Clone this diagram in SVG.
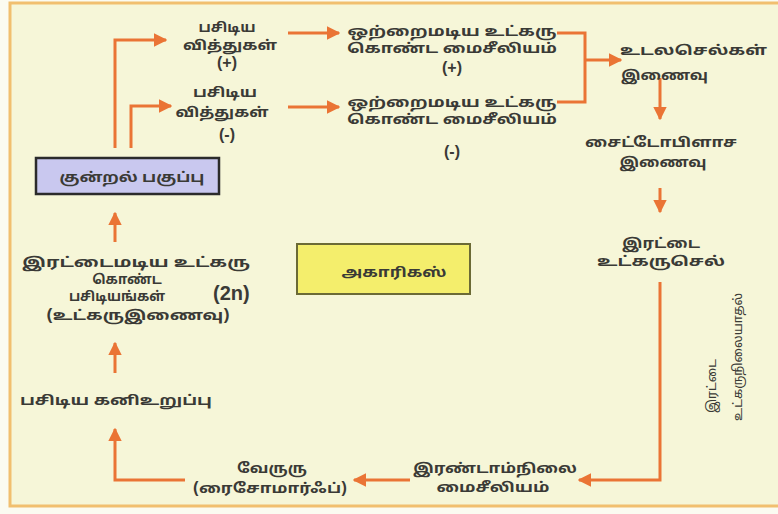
<svg xmlns="http://www.w3.org/2000/svg" width="778" height="514" viewBox="0 0 778 514">
<defs>
<style>
.t{font-family:"Noto Sans Tamil","Lohit Tamil","Noto Sans","DejaVu Sans",sans-serif;font-size:13.5px;fill:#3a3a36;text-anchor:middle;font-weight:bold}
.l{text-anchor:start}
.v{font-size:12.5px;font-weight:normal}
.c{fill:none;stroke:#ea7435;stroke-width:3}
.lat{font-family:"Liberation Sans",Arial,sans-serif;font-size:20px;fill:#3a3a36;font-weight:bold}
.pm{font-family:"Liberation Sans",Arial,sans-serif;font-size:16px;fill:#3a3a36;font-weight:bold;text-anchor:middle}
</style>
<marker id="ah" viewBox="0 0 10 10" refX="9" refY="5" markerWidth="4.5" markerHeight="4.5" orient="auto" markerUnits="strokeWidth">
<path d="M0,0 L10,5 L0,10 z" fill="#ea7435"/>
</marker>
</defs>
<rect x="0" y="0" width="778" height="514" fill="#fbfbf1"/>
<rect x="10" y="3" width="775" height="503" fill="#f6f6d8" stroke="#f1bf6f" stroke-width="3"/>

<g id="connectors">
<path class="c" d="M115,148 V40 H166" marker-end="url(#ah)"/>
<path class="c" d="M131,148 V106 H171" marker-end="url(#ah)"/>
<path class="c" d="M288,33 H339" marker-end="url(#ah)"/>
<path class="c" d="M288,107 H339" marker-end="url(#ah)"/>
<path class="c" d="M557,33 H585 V102 H557"/>
<path class="c" d="M585,60 H621" marker-end="url(#ah)"/>
<path class="c" d="M660,78 V119" marker-end="url(#ah)"/>
<path class="c" d="M660,188 V212" marker-end="url(#ah)"/>
<path class="c" d="M660,282 V480 H579" marker-end="url(#ah)"/>
<path class="c" d="M410,480 H354" marker-end="url(#ah)"/>
<path class="c" d="M185,480 H115 V429" marker-end="url(#ah)"/>
<path class="c" d="M115,373 V343" marker-end="url(#ah)"/>
<path class="c" d="M115,242 V213" marker-end="url(#ah)"/>
</g>

<g id="basidiospore-plus">
<text class="t" x="227" y="32" textLength="57" lengthAdjust="spacingAndGlyphs">பசிடிய</text>
<text class="t" x="230" y="50" textLength="94" lengthAdjust="spacingAndGlyphs">வித்துகள்</text>
<text class="pm" x="227" y="68">(+)</text>
</g>
<g id="basidiospore-minus">
<text class="t" x="225" y="97" textLength="64" lengthAdjust="spacingAndGlyphs">பசிடிய</text>
<text class="t" x="222" y="117" textLength="93" lengthAdjust="spacingAndGlyphs">வித்துகள்</text>
<text class="pm" x="227" y="140">(-)</text>
</g>
<g id="mycelium-plus">
<text class="t" x="452" y="36" textLength="209" lengthAdjust="spacingAndGlyphs">ஒற்றைமடிய உட்கரு</text>
<text class="t" x="452" y="53" textLength="210" lengthAdjust="spacingAndGlyphs">கொண்ட மைசீலியம்</text>
<text class="pm" x="452" y="73">(+)</text>
</g>
<g id="mycelium-minus">
<text class="t" x="452" y="107" textLength="209" lengthAdjust="spacingAndGlyphs">ஒற்றைமடிய உட்கரு</text>
<text class="t" x="452" y="124" textLength="210" lengthAdjust="spacingAndGlyphs">கொண்ட மைசீலியம்</text>
<text class="pm" x="452" y="157">(-)</text>
</g>
<g id="somatogamy">
<text class="t l" x="620" y="55" textLength="147" lengthAdjust="spacingAndGlyphs">உடலசெல்கள்</text>
<text class="t l" x="621" y="80" textLength="87" lengthAdjust="spacingAndGlyphs">இணைவு</text>
</g>
<g id="plasmogamy">
<text class="t" x="661" y="147" textLength="152" lengthAdjust="spacingAndGlyphs">சைட்டோபிளாச</text>
<text class="t" x="663" y="167" textLength="87" lengthAdjust="spacingAndGlyphs">இணைவு</text>
</g>
<g id="dikaryon">
<text class="t" x="661" y="248" textLength="78" lengthAdjust="spacingAndGlyphs">இரட்டை</text>
<text class="t" x="661" y="266" textLength="128" lengthAdjust="spacingAndGlyphs">உட்கருசெல்</text>
</g>
<g id="dikaryotization">
<text class="t v" transform="translate(716,386) rotate(-90)">இரட்டை</text>
<text class="t v" transform="translate(742,357) rotate(-90)">உட்கருநிலையாதல்</text>
</g>
<g id="secondary-mycelium">
<text class="t" x="495" y="473" textLength="164" lengthAdjust="spacingAndGlyphs">இரண்டாம்நிலை</text>
<text class="t" x="493" y="492" textLength="113" lengthAdjust="spacingAndGlyphs">மைசீலியம்</text>
</g>
<g id="rhizomorph">
<text class="t" x="272" y="473" textLength="70" lengthAdjust="spacingAndGlyphs">வேருரு</text>
<text class="t" x="270" y="493" textLength="154" lengthAdjust="spacingAndGlyphs">(ரைசோமார்ஃப்)</text>
</g>
<g id="basidiocarp">
<text class="t l" x="20" y="405" textLength="192" lengthAdjust="spacingAndGlyphs">பசிடிய கனிஉறுப்பு</text>
</g>
<g id="basidia">
<text class="t" x="136" y="267" textLength="228" lengthAdjust="spacingAndGlyphs">இரட்டைமடிய உட்கரு</text>
<text class="t" x="127" y="284">கொண்ட</text>
<text class="t" x="117" y="301">பசிடியங்கள்</text>
<text class="t" x="138" y="320" textLength="183" lengthAdjust="spacingAndGlyphs">(உட்கருஇணைவு)</text>
<text class="lat" x="213" y="300">(2n)</text>
</g>
<g id="meiosis">
<rect x="36" y="158" width="183" height="36" fill="#c9c8ef" stroke="#2b2b2b" stroke-width="2.5"/>
<text class="t" x="132" y="182" textLength="145" lengthAdjust="spacingAndGlyphs">குன்றல் பகுப்பு</text>
</g>
<g id="agaricus">
<rect x="297" y="244" width="173" height="50" fill="#f4ee6c" stroke="#6b6a35" stroke-width="2"/>
<text class="t" x="394" y="277" textLength="105" lengthAdjust="spacingAndGlyphs">அகாரிகஸ்</text>
</g>
</svg>
